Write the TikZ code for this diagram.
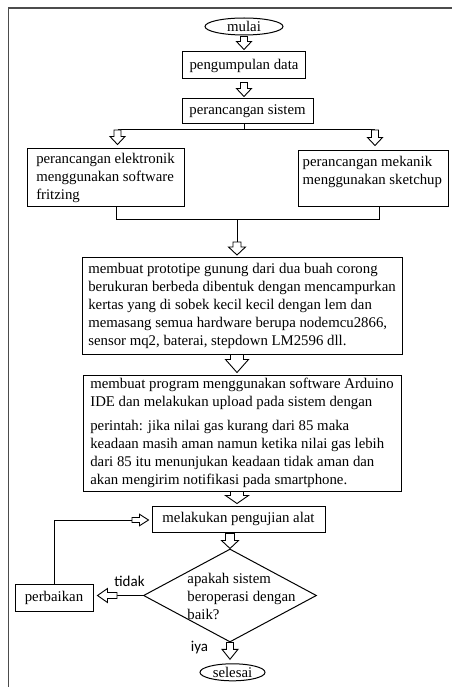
\documentclass[tikz,border=0pt]{standalone}
\usepackage{fontspec}
\setmainfont{Liberation Serif}
\newfontfamily\labfont{Carlito}
\usetikzlibrary{shapes.geometric,calc}
\begin{document}
\begin{tikzpicture}[x=1pt,y=-1pt,
  every node/.style={font=\fontsize{14.8}{18}\selectfont, text=black},
  box/.style={draw=black, line width=1pt, rectangle, inner sep=0pt},
  oval/.style={draw=black, line width=1pt, ellipse, inner sep=0pt},
  link/.style={draw=black, line width=1pt},
  lab/.style={font=\labfont\fontsize{15}{18}\selectfont, inner sep=0pt},
  barrow/.style n args={5}{draw=black, line width=0.9pt, fill=white, to path={
    ($(\tikztostart)!#4!(\tikztotarget)$) coordinate (baS)
    ($(\tikztotarget)!#5!(\tikztostart)$) coordinate (baT)
    ($(baT)!#3!(baS)$) coordinate (baH)
    ($(baS)!#2!90:(baT)$) -- ($(baH)!#2!90:(baT)$) -- ($(baH)!#1!90:(baT)$) -- (baT)
    -- ($(baH)!#1!-90:(baT)$) -- ($(baH)!#2!-90:(baT)$) -- ($(baS)!#2!-90:(baT)$) -- cycle}}
]
\useasboundingbox (0,0) rectangle (452,687);
% outer frame
\draw[black!70, line width=1.6pt] (8.3,687) -- (8.3,8) -- (452,8);

% nodes
\node[oval, minimum width=78pt, minimum height=17pt] (mulai) at (244,26.5) {mulai};
\node[box, minimum width=123pt, minimum height=27pt] (data) at (244,65.5) {pengumpulan data};
\node[box, minimum width=131pt, minimum height=25pt] (sistem) at (247.5,111.5) {perancangan sistem};
\node[box, align=left, minimum width=157pt, minimum height=57pt] (elek) at (105.5,177.5)
  {perancangan elektronik\\menggunakan software\\fritzing};
\node[box, minimum width=150pt, minimum height=55pt] (mek) at (373,178.5) {};
\node[align=left, anchor=north west, inner sep=0pt] (mektext) at ($(mek.north west)+(5,5.5)$)
  {perancangan mekanik\\menggunakan sketchup};
\node[box, align=left, minimum width=320pt, minimum height=97pt] (proto) at (242,305.5)
  {membuat prototipe gunung dari dua buah corong\\berukuran berbeda dibentuk dengan mencampurkan\\kertas yang di sobek kecil kecil dengan lem dan\\memasang semua hardware berupa nodemcu2866,\\sensor mq2, baterai, stepdown LM2596 dll.};
\node[box, align=left, minimum width=318pt, minimum height=116pt] (prog) at (242,433)
  {membuat program menggunakan software Arduino\\IDE dan melakukan upload pada sistem dengan\\[6pt]perintah: jika nilai gas kurang dari 85 maka\\keadaan masih aman namun ketika nilai gas lebih\\dari 85 itu menunjukan keadaan tidak aman dan\\akan mengirim notifikasi pada smartphone.};
\node[box, minimum width=173pt, minimum height=26pt] (uji) at (238.5,519) {melakukan pengujian alat};
\node[diamond, draw=black, line width=1pt, inner sep=0pt, minimum width=173pt, minimum height=93pt] (dia) at (230,595.5) {};
\node[align=left, inner sep=0pt] (diatext) at (241.5,596) {apakah sistem\\beroperasi dengan\\baik?};
\node[box, minimum width=78pt, minimum height=27pt] (perb) at (54,597.5) {perbaikan};
\node[oval, minimum width=65pt, minimum height=17pt] (selesai) at (232.5,672.3) {selesai};
\node[lab] (tidak) at (129.5,581.5) {tidak};
\node[lab] (iya) at (199.5,647.5) {iya};

% coordinates
\coordinate (a2t) at (data.south |- sistem.north);
\coordinate (bt) at (244,130);
\coordinate (bl) at (117.5,130);
\coordinate (br) at (375,130);
\coordinate (a3t) at (bl |- elek.north);
\coordinate (a4t) at (br |- mek.north);
\coordinate (jl) at (116,219);
\coordinate (jr) at (379,219);
\coordinate (jm) at (237,219);
\coordinate (ja) at (237,242);
\coordinate (a5t) at (ja |- proto.north);
\coordinate (a6s) at (ja |- proto.south);
\coordinate (a6t) at (ja |- prog.north);
\coordinate (a7s) at (ja |- prog.south);
\coordinate (a7t) at (ja |- uji.north);
\coordinate (a8s) at (dia.north |- uji.south);
\coordinate (a9t) at (dia.south |- selesai.north);
\coordinate (lt) at (117,595.5);
\coordinate (ltt) at (lt -| perb.east);
\coordinate (lp) at (54,520);
\coordinate (lq) at (132,520);
\coordinate (lqt) at (lq -| uji.west);

% plain connector lines
\draw[link] (bt |- sistem.south) -- (bt);
\draw[link] (bl) -- (br);
\draw[link] (jl |- elek.south) -- (jl) -- (jr) -- (jr |- mek.south);
\draw[link] (jm) -- (ja);
\draw[link] (dia.west) -- (lt);
\draw[link] (perb.north) -- (lp) -- (lq);

% hollow block arrows
\draw[barrow={7.5pt}{3.5pt}{8pt}{1pt}{2pt}] (mulai.south) to (data.north);
\draw[barrow={7.5pt}{3.5pt}{8pt}{3pt}{2pt}] (data.south) to (a2t);
\draw[barrow={7.5pt}{3.5pt}{8pt}{0pt}{4pt}] (bl) to (a3t);
\draw[barrow={7.5pt}{3.5pt}{8pt}{0pt}{5pt}] (br) to (a4t);
\draw[barrow={8.5pt}{4pt}{8pt}{0pt}{1.5pt}] (ja) to (a5t);
\draw[barrow={11.5pt}{6.5pt}{13pt}{0pt}{2pt}] (a6s) to (a6t);
\draw[barrow={11.5pt}{6.5pt}{8pt}{0pt}{2pt}] (a7s) to (a7t);
\draw[barrow={8.5pt}{4.5pt}{8pt}{1pt}{0pt}] (a8s) to (dia.north);
\draw[barrow={8pt}{3.5pt}{10pt}{0pt}{4pt}] (dia.south) to (a9t);
\draw[barrow={7pt}{3pt}{10pt}{0pt}{4pt}] (lt) to (ltt);
\draw[barrow={5.75pt}{2.5pt}{9pt}{0pt}{3pt}] (lq) to (lqt);
\end{tikzpicture}
\end{document}
